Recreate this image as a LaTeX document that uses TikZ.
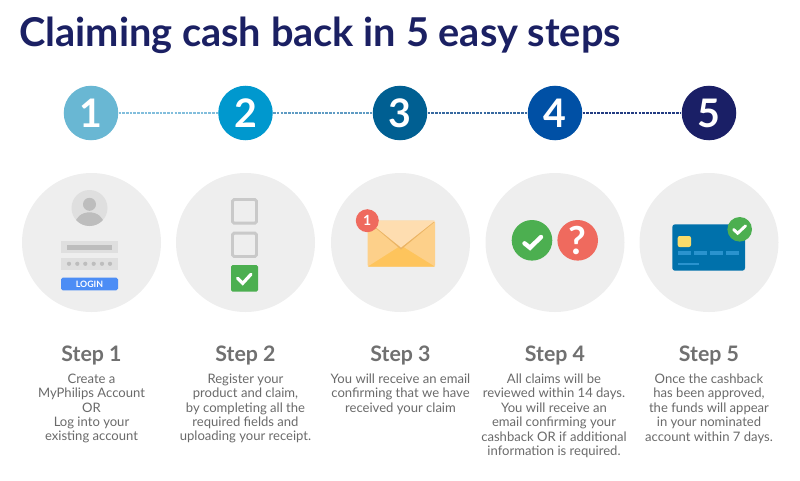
\documentclass[tikz,border=0pt]{standalone}
\usepackage{fontspec}
\setmainfont{Lato}
\definecolor{navy}{HTML}{1B2063}
\definecolor{txt}{HTML}{6A6A6A}
\definecolor{stephead}{HTML}{707070}
\definecolor{disc}{HTML}{EEEEEE}
\definecolor{greyA}{HTML}{DFDFDF}
\definecolor{greyB}{HTML}{BDBDBD}
\definecolor{greyC}{HTML}{C9C9C9}
\definecolor{okgreen}{HTML}{4CAF50}
\definecolor{alert}{HTML}{EF6A5E}
\definecolor{cardblue}{HTML}{0071AB}
\definecolor{stripe}{HTML}{2A93CE}
\tikzset{
  numdot/.style={circle,minimum size=40.9pt,inner sep=0,text=white,font=\fontsize{29.5}{30}\selectfont\bfseries},
  bigdisc/.style={circle,fill=disc,minimum size=104.25pt,inner sep=0},
  link/.style={line width=0.9,dash pattern=on 2 off 0.8},
  stephead/.style={text=stephead,font=\fontsize{16}{18}\selectfont\bfseries},
  stepbody/.style={text=txt,align=center,anchor=north,inner sep=0,font=\fontsize{9.8}{10.8}\selectfont},
  tick/.style={draw=white,line width=#1,line cap=round,line join=miter},
  box/.style={draw=greyC,line width=2.2,rounded corners=1.2},
}
\begin{document}
\begin{tikzpicture}[x=0.75pt,y=-0.75pt]
\useasboundingbox (0,0) rectangle (800,480);
\node[anchor=west,inner sep=0,text=navy,font=\fontsize{29.8}{32}\selectfont\bfseries] (title) at (19,35) {Claiming cash back in 5 easy steps};
% number circles
\node[numdot,fill={rgb,255:red,105;green,183;blue,211}] (n1) at (91,113) {1};
\node[numdot,fill={rgb,255:red,0;green,152;blue,206}] (n2) at (245.5,113) {2};
\node[numdot,fill={rgb,255:red,0;green,95;blue,146}] (n3) at (400,113) {3};
\node[numdot,fill={rgb,255:red,0;green,80;blue,165}] (n4) at (555,113) {4};
\node[numdot,fill={rgb,255:red,26;green,31;blue,102}] (n5) at (709,113) {5};
\draw[link,draw={rgb,255:red,130;green,190;blue,220}] (n1) -- (n2);
\draw[link,draw={rgb,255:red,95;green,155;blue,195}] (n2) -- (n3);
\draw[link,draw={rgb,255:red,55;green,105;blue,160}] (n3) -- (n4);
\draw[link,draw={rgb,255:red,35;green,60;blue,130}] (n4) -- (n5);
% discs
\node[bigdisc] (d1) at (91.5,242.5) {};
\node[bigdisc] (d2) at (245.5,242.5) {};
\node[bigdisc] (d3) at (400.5,242.5) {};
\node[bigdisc] (d4) at (555,242.5) {};
\node[bigdisc] (d5) at (709,242.5) {};
% icon 1
\fill[greyA] (89.5,208) circle (18);
\begin{scope}
\clip (89.5,208) circle (18);
\fill[greyB] (89.5,224.5) ellipse (14.5 and 12.2);
\end{scope}
\fill[greyB] (89.5,204.3) circle (6.5);
\fill[greyA] (61,241) rectangle (118,253.3);
\fill[greyB] (66.7,245.3) rectangle (112.3,250);
\fill[greyA] (61,257.7) rectangle (118,270);
\foreach \x in {69,77.3,85.3,93.7,102,110} \fill[greyB] (\x,263.8) circle (2.1);
\fill[rounded corners=1.2,fill={rgb,255:red,76;green,141;blue,245}] (61,277.7) rectangle (118,290.3);
\node[text=white,inner sep=0,font=\fontsize{6.6}{7}\selectfont\bfseries] (login) at (89.5,284.2) {LOGIN};
% icon 2
\draw[box] (232.5,199.5) rectangle (256.5,223.2);
\draw[box] (232.5,233.2) rectangle (256.5,256.5);
\fill[okgreen,rounded corners=1.2] (231,265) rectangle (258,291.7);
\draw[tick=2.4] (237.6,278.3) -- (242.7,283.3) -- (251,274.3);
% icon 3
\fill[rounded corners=1,fill={rgb,255:red,253;green,208;blue,138}] (367.7,220.7) rectangle (435,266.7);
\fill[fill={rgb,255:red,254;green,196;blue,92}] (367.7,266.7) -- (401,245.5) -- (435,266.7) -- cycle;
\fill[fill={rgb,255:red,235;green,180;blue,100}] (368.5,222) -- (401,249.5) -- (434.5,222) -- cycle;
\fill[fill={rgb,255:red,254;green,221;blue,176}] (367.7,220.7) -- (401,247.5) -- (435,220.7) -- cycle;
\node[circle,fill=alert,minimum size=17.25pt,inner sep=0,text=white,font=\fontsize{10.5}{11}\selectfont\bfseries] (b3) at (367.3,220.7) {1};
% icon 4
\fill[okgreen] (532,240.3) circle (20.3);
\draw[tick=3.3] (524.5,243.3) -- (530,247.7) -- (541,237);
\node[circle,fill=alert,minimum size=30.45pt,inner sep=0,text=white,font=\fontsize{29}{29}\selectfont\bfseries] (q) at (577.7,240.3) {?};
% icon 5
\fill[cardblue,rounded corners=2] (672.3,224.3) rectangle (745,270.7);
\fill[rounded corners=1.5,fill={rgb,255:red,251;green,220;blue,106}] (677.7,236) rectangle (691,247);
\foreach \x/\y in {677.7/690.7,694/707,710.3/723.3,726.3/739.3} \fill[stripe] (\x,251) rectangle (\y,255.3);
\fill[stripe] (677.7,263) rectangle (698.7,265);
\fill[okgreen] (739.7,229.3) circle (12.3);
\draw[tick=2.2] (733.6,229.5) -- (737.7,233.2) -- (745.6,225.8);
% step text
\foreach \n/\x in {1/91.5,2/245.5,3/400.5,4/555,5/709}
  \node[stephead] (h\n) at (\x,355.5) {Step \n};
\node[stepbody] (t1) at (91.5,373.5) {Create a\\MyPhilips Account\\OR\\Log into your\\existing account};
\node[stepbody] (t2) at (245.5,373.5) {Register your\\product and claim,\\by completing all the\\required fields and\\uploading your receipt.};
\node[stepbody] (t3) at (400.5,373.5) {You will receive an email\\confirming that we have\\received your claim};
\node[stepbody] (t4) at (554,373.5) {All claims will be\\reviewed within 14 days.\\You will receive an\\email confirming your\\cashback OR if additional\\information is required.};
\node[stepbody] (t5) at (709,373.5) {Once the cashback\\has been approved,\\the funds will appear\\in your nominated\\account within 7 days.};
\end{tikzpicture}
\end{document}
